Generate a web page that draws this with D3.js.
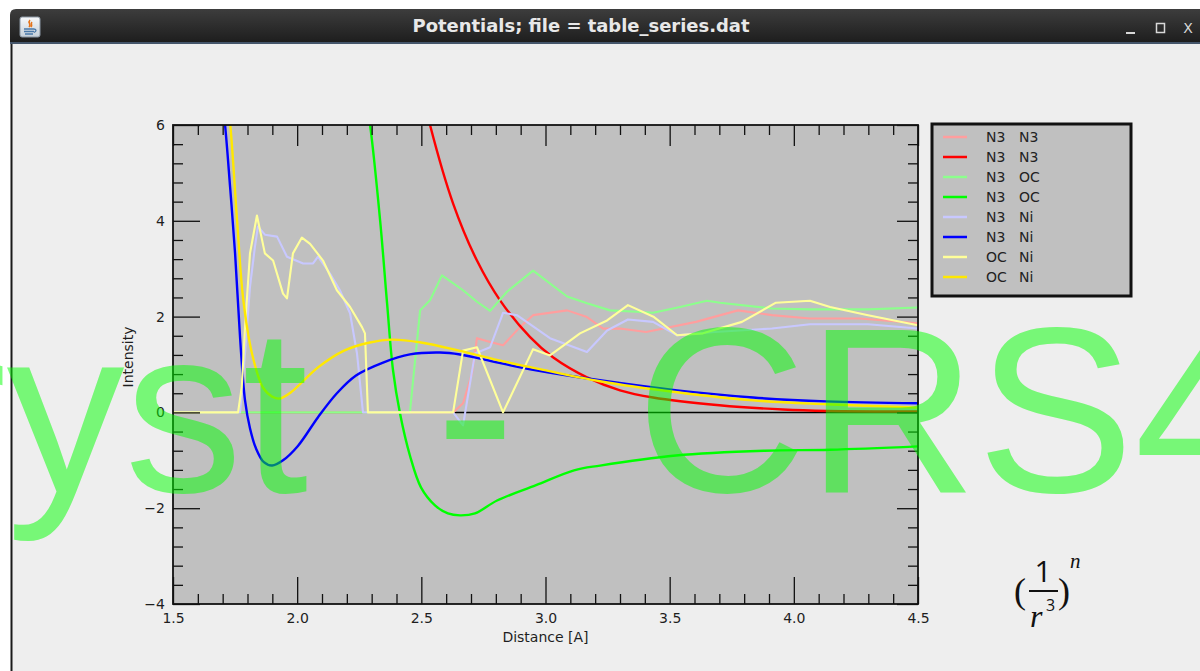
<!DOCTYPE html>
<html>
<head>
<meta charset="utf-8">
<script src="https://cdn.jsdelivr.net/npm/d3@7"></script>
<style>
  html, body { margin: 0; padding: 0; background: #ffffff; }
  svg { display: block; }
</style>
</head>
<body>
<div id="chart"></div>
<script>
////////////////////////////////////////////////////////////////////////
// Data, [distance, intensity] pairs

let n3n3Light = [[1.5, 0], [2.628, 0], [2.668, 0.19], [2.704, 0.81], [2.724, 1.55], [2.777, 1.47],
  [2.829, 1.40], [2.897, 1.78], [2.950, 2.03], [3.087, 2.13], [3.167, 1.99], [3.232, 1.75],
  [3.300, 1.75], [3.405, 1.68], [3.606, 1.89], [3.775, 2.13], [3.912, 2.03], [4.065, 1.96],
  [4.266, 1.96], [4.5, 1.86]]

let n3n3Dark = [[2.50, 6.8], [2.535, 6.0], [2.628, 4.36], [2.724, 3.17], [2.817, 2.34], [2.938, 1.57],
  [3.030, 1.15], [3.167, 0.73], [3.300, 0.46], [3.433, 0.31], [3.70, 0.15], [3.956, 0.06],
  [4.134, 0.03], [4.5, 0.02]]

let n3ocLight = [[1.5, 0], [2.454, 0], [2.495, 2.13], [2.535, 2.34], [2.583, 2.86], [2.668, 2.55],
  [2.724, 2.31], [2.777, 2.12], [2.845, 2.52], [2.950, 2.96], [3.087, 2.42], [3.167, 2.28],
  [3.260, 2.13], [3.368, 2.10], [3.433, 2.08], [3.542, 2.20], [3.650, 2.33], [3.703, 2.29],
  [3.912, 2.17], [4.065, 2.15], [4.299, 2.15], [4.5, 2.19]]

let n3ocDark = [[2.273, 6.7], [2.293, 6.03], [2.334, 4.01], [2.362, 2.28], [2.386, 0.88], [2.414, -0.02],
  [2.454, -0.90], [2.499, -1.57], [2.555, -1.94], [2.607, -2.11], [2.656, -2.15], [2.716, -2.11],
  [2.805, -1.84], [2.962, -1.52], [3.115, -1.21], [3.220, -1.11], [3.525, -0.90], [3.884, -0.80],
  [4.146, -0.78], [4.5, -0.71]]

let n3niLight = [[1.5, 0], [1.770, 0], [1.790, 1.23], [1.810, 2.62], [1.830, 3.46], [1.842, 3.88],
  [1.870, 3.71], [1.919, 3.67], [1.959, 3.25], [2.024, 3.11], [2.064, 3.11], [2.084, 3.25],
  [2.132, 2.90], [2.172, 2.55], [2.213, 2.07], [2.241, 1.23], [2.265, 0], [2.628, 0],
  [2.668, -0.27], [2.716, 1.23], [2.777, 1.36], [2.829, 2.08], [2.885, 2.03], [3.018, 1.55],
  [3.167, 1.26], [3.248, 1.71], [3.332, 1.94], [3.433, 1.89], [3.530, 1.61], [3.683, 1.68],
  [3.912, 1.75], [4.065, 1.84], [4.299, 1.84], [4.5, 1.75]]

let n3niDark = [[1.693, 6.7], [1.709, 6.03], [1.730, 4.70], [1.750, 3.32], [1.770, 1.57], [1.790, 0.25],
  [1.810, -0.33], [1.834, -0.75], [1.866, -1.04], [1.899, -1.11], [1.943, -1.00], [2.003, -0.70],
  [2.084, -0.10], [2.160, 0.40], [2.237, 0.77], [2.346, 1.04], [2.454, 1.21], [2.575, 1.25],
  [2.656, 1.21], [2.809, 1.04], [2.962, 0.88], [3.219, 0.67], [3.530, 0.46], [3.836, 0.31],
  [4.130, 0.23], [4.5, 0.19]]

let ocniLight = [[1.5, 0], [1.762, 0], [1.777, 0.53], [1.790, 1.78], [1.810, 3.32], [1.838, 4.11],
  [1.870, 3.32], [1.903, 3.17], [1.943, 2.48], [1.959, 2.38], [1.983, 3.32], [2.019, 3.65],
  [2.052, 3.52], [2.104, 3.17], [2.160, 2.55], [2.213, 2.20], [2.261, 1.78], [2.273, 1.65],
  [2.285, 0], [2.628, 0], [2.668, 1.29], [2.724, 1.36], [2.829, 0], [2.950, 1.32],
  [3.018, 1.19], [3.139, 1.65], [3.248, 1.92], [3.332, 2.24], [3.437, 1.99], [3.530, 1.61],
  [3.634, 1.65], [3.791, 1.89], [3.928, 2.29], [4.065, 2.33], [4.146, 2.20], [4.299, 2.03],
  [4.5, 1.82]]

let ocniDark = [[1.713, 6.7], [1.730, 6.03], [1.758, 4.01], [1.782, 2.40], [1.818, 1.23], [1.862, 0.52],
  [1.899, 0.33], [1.931, 0.29], [1.975, 0.42], [2.084, 0.94], [2.189, 1.29], [2.293, 1.46],
  [2.382, 1.52], [2.499, 1.46], [2.652, 1.29], [2.809, 1.09], [2.962, 0.92], [3.219, 0.65],
  [3.530, 0.42], [3.836, 0.25], [4.130, 0.17], [4.5, 0.10]]

// legend labels and colours, in drawing order
let pairA = ['N3', 'N3', 'N3', 'N3', 'N3', 'N3', 'OC', 'OC']
let pairB = ['N3', 'N3', 'OC', 'OC', 'Ni', 'Ni', 'Ni', 'Ni']
let lineColors = ['#ff9e9e', '#ff0000', '#8cff8c', '#00ff00', '#c8c8ff', '#0000ff', '#ffff9a', '#ffe800']

// axis ticks
let xMajor = [1.5, 2.0, 2.5, 3.0, 3.5, 4.0, 4.5]
let yMajor = [-4, -2, 0, 2, 4, 6]
let xMinor = [1.6, 1.7, 1.8, 1.9, 2.1, 2.2, 2.3, 2.4, 2.6, 2.7, 2.8, 2.9, 3.1, 3.2, 3.3, 3.4,
  3.6, 3.7, 3.8, 3.9, 4.1, 4.2, 4.3, 4.4]
let yMinor = [-3.6, -3.2, -2.8, -2.4, -1.6, -1.2, -0.8, -0.4, 0.4, 0.8, 1.2, 1.6,
  2.4, 2.8, 3.2, 3.6, 4.4, 4.8, 5.2, 5.6]

let seriesData = [n3n3Light, n3n3Dark, n3ocLight, n3ocDark, n3niLight, n3niDark, ocniLight, ocniDark]

////////////////////////////////////////////////////////////////////////
// Layout

let width = 1200
let height = 671
let plotLeft = 173
let plotRight = 918
let plotTop = 125
let plotBottom = 604
let font = "'DejaVu Sans', sans-serif"

let svg = d3
  .select('#chart')
  .append('svg')
  .attr('width', width)
  .attr('height', height)

let xScale = d3.scaleLinear().domain([1.5, 4.5]).range([plotLeft, plotRight])
let yScale = d3.scaleLinear().domain([-4, 6]).range([plotBottom, plotTop])

////////////////////////////////////////////////////////////////////////
// Window chrome

let defs = svg.append('defs')
let barGrad = defs.append('linearGradient').attr('id', 'bar').attr('x1', 0).attr('y1', 0).attr('x2', 0).attr('y2', 1)
barGrad.append('stop').attr('offset', 0).attr('stop-color', '#3d3d3d')
barGrad.append('stop').attr('offset', 1).attr('stop-color', '#1c1c1c')
let iconGrad = defs.append('linearGradient').attr('id', 'icon').attr('x1', 0).attr('y1', 0).attr('x2', 0).attr('y2', 1)
iconGrad.append('stop').attr('offset', 0).attr('stop-color', '#f6f8fa')
iconGrad.append('stop').attr('offset', 1).attr('stop-color', '#c4cfd9')

// content area
svg.append('rect').attr('x', 11).attr('y', 40).attr('width', 1189).attr('height', 631).attr('fill', '#eeeeee')
svg.append('line').attr('x1', 11.5).attr('x2', 11.5).attr('y1', 40).attr('y2', height)
  .attr('stroke', '#1a1a1a').attr('stroke-width', 2)

// title bar
svg.append('path')
  .attr('d', 'M10,44 L10,15 Q10,9 16,9 L1200,9 L1200,44 Z')
  .attr('fill', 'url(#bar)')
svg.append('line').attr('x1', 10).attr('x2', 1200).attr('y1', 43).attr('y2', 43)
  .attr('stroke', '#44556a').attr('stroke-width', 2)

// little java icon
let icon = svg.append('g').attr('transform', 'translate(20,17)')
icon.append('rect').attr('width', 20).attr('height', 20).attr('rx', 2).attr('fill', 'url(#icon)').attr('stroke', '#8a96a3')
icon.append('path').attr('d', 'M10,3 C7,6 12,7 9,10 M12,5 C10,7 13,8 11,10')
  .attr('fill', 'none').attr('stroke', '#e4741c').attr('stroke-width', 1.6)
icon.append('path').attr('d', 'M4,12 L14,12 M4,14.5 L14,14.5 M5,17 L13,17 M14,12 Q18,13 14,15.5')
  .attr('fill', 'none').attr('stroke', '#4a78a8').attr('stroke-width', 1.3)

svg.append('text')
  .attr('x', 581)
  .attr('y', 32)
  .attr('text-anchor', 'middle')
  .attr('font-family', "'DejaVu Sans Condensed', 'DejaVu Sans', sans-serif")
  .attr('font-weight', 'bold')
  .attr('font-size', 17)
  .attr('fill', '#e8e8e8')
  .attr('textLength', 337)
  .attr('lengthAdjust', 'spacingAndGlyphs')
  .text('Potentials; file = table_series.dat')

// window buttons
svg.append('line').attr('x1', 1126).attr('x2', 1135).attr('y1', 33).attr('y2', 33).attr('stroke', '#d8d8d8').attr('stroke-width', 2)
svg.append('rect').attr('x', 1156.5).attr('y', 23.5).attr('width', 8).attr('height', 9).attr('fill', 'none').attr('stroke', '#d8d8d8').attr('stroke-width', 1.5)
svg.append('text').attr('x', 1188).attr('y', 33).attr('text-anchor', 'middle')
  .attr('font-family', font).attr('font-size', 14).attr('fill', '#d8d8d8').text('X')

////////////////////////////////////////////////////////////////////////
// Plot area

svg.append('rect')
  .attr('x', plotLeft)
  .attr('y', plotTop)
  .attr('width', plotRight - plotLeft)
  .attr('height', plotBottom - plotTop)
  .attr('fill', '#c0c0c0')

defs.append('clipPath').attr('id', 'plotclip')
  .append('rect')
  .attr('x', plotLeft)
  .attr('y', plotTop)
  .attr('width', plotRight - plotLeft)
  .attr('height', plotBottom - plotTop)

// zero line
svg.append('line')
  .attr('x1', plotLeft)
  .attr('x2', plotRight)
  .attr('y1', yScale(0))
  .attr('y2', yScale(0))
  .attr('stroke', '#000')
  .attr('stroke-width', 1.5)

let series = seriesData.map((d, i) => ({
  data: d,
  color: lineColors[i],
  dark: i % 2 === 1
}))

let lineJagged = d3.line().x(d => xScale(d[0])).y(d => yScale(d[1]))
let lineSmooth = d3.line().x(d => xScale(d[0])).y(d => yScale(d[1])).curve(d3.curveCatmullRom.alpha(0.5))

svg.append('g')
  .attr('clip-path', 'url(#plotclip)')
  .selectAll('path')
  .data(series)
  .enter()
  .append('path')
  .attr('fill', 'none')
  .attr('stroke', d => d.color)
  .attr('stroke-width', d => (d.dark ? 2.4 : 2.1))
  .attr('stroke-linejoin', 'round')
  .attr('d', d => (d.dark ? lineSmooth(d.data) : lineJagged(d.data)))

// axes: bottom/left with labels, top/right ticks only
function styleAxis (g, labels) {
  g.select('.domain').remove()
  g.selectAll('.tick line').attr('stroke', '#111').attr('stroke-width', 1.3)
  g.attr('font-family', font).attr('font-size', 14)
  if (labels) g.selectAll('.tick text').attr('fill', '#1e1e1e')
}

let xAxis = svg.append('g')
  .attr('transform', 'translate(0,' + plotBottom + ')')
  .call(d3.axisBottom(xScale).tickValues(xMajor).tickSizeInner(-27).tickSizeOuter(0)
    .tickPadding(9).tickFormat(d3.format('.1f')))
styleAxis(xAxis, true)
let xAxisMinor = svg.append('g')
  .attr('transform', 'translate(0,' + plotBottom + ')')
  .call(d3.axisBottom(xScale).tickValues(xMinor).tickSizeInner(-10).tickSizeOuter(0).tickFormat(''))
styleAxis(xAxisMinor, false)

let yAxis = svg.append('g')
  .attr('transform', 'translate(' + plotLeft + ',0)')
  .call(d3.axisLeft(yScale).tickValues(yMajor).tickSizeInner(-27).tickSizeOuter(0)
    .tickPadding(8).tickFormat(d3.format('d')))
styleAxis(yAxis, true)
let yAxisMinor = svg.append('g')
  .attr('transform', 'translate(' + plotLeft + ',0)')
  .call(d3.axisLeft(yScale).tickValues(yMinor).tickSizeInner(-10).tickSizeOuter(0).tickFormat(''))
styleAxis(yAxisMinor, false)

let topAxis = svg.append('g')
  .attr('transform', 'translate(0,' + plotTop + ')')
  .call(d3.axisTop(xScale).tickValues(xMajor).tickSizeInner(-21).tickSizeOuter(0).tickFormat(''))
styleAxis(topAxis, false)
let topAxisMinor = svg.append('g')
  .attr('transform', 'translate(0,' + plotTop + ')')
  .call(d3.axisTop(xScale).tickValues(xMinor).tickSizeInner(-10).tickSizeOuter(0).tickFormat(''))
styleAxis(topAxisMinor, false)

let rightAxis = svg.append('g')
  .attr('transform', 'translate(' + plotRight + ',0)')
  .call(d3.axisRight(yScale).tickValues(yMajor).tickSizeInner(-21).tickSizeOuter(0).tickFormat(''))
styleAxis(rightAxis, false)
let rightAxisMinor = svg.append('g')
  .attr('transform', 'translate(' + plotRight + ',0)')
  .call(d3.axisRight(yScale).tickValues(yMinor).tickSizeInner(-10).tickSizeOuter(0).tickFormat(''))
styleAxis(rightAxisMinor, false)

// frame
svg.append('rect')
  .attr('x', plotLeft)
  .attr('y', plotTop)
  .attr('width', plotRight - plotLeft)
  .attr('height', plotBottom - plotTop)
  .attr('fill', 'none')
  .attr('stroke', '#111')
  .attr('stroke-width', 1.8)

// axis titles
svg.append('text')
  .attr('x', (plotLeft + plotRight) / 2)
  .attr('y', 642)
  .attr('text-anchor', 'middle')
  .attr('font-family', font)
  .attr('font-size', 14)
  .attr('fill', '#1e1e1e')
  .text('Distance [A]')

svg.append('text')
  .attr('transform', 'translate(133,357) rotate(-90)')
  .attr('text-anchor', 'middle')
  .attr('font-family', font)
  .attr('font-size', 14)
  .attr('fill', '#1e1e1e')
  .text('Intensity')

////////////////////////////////////////////////////////////////////////
// Legend

let legend = svg.append('g').attr('transform', 'translate(932,124)')
legend.append('rect')
  .attr('width', 199)
  .attr('height', 172)
  .attr('fill', '#c0c0c0')
  .attr('stroke', '#111')
  .attr('stroke-width', 3)

let rows = legend.selectAll('g.row')
  .data(series)
  .enter()
  .append('g')
  .attr('class', 'row')
  .attr('transform', (d, i) => 'translate(0,' + (13 + i * 20) + ')')

rows.append('line')
  .attr('x1', 11)
  .attr('x2', 35)
  .attr('stroke', d => d.color)
  .attr('stroke-width', 2.5)

rows.append('text')
  .attr('x', 54)
  .attr('y', 5)
  .attr('font-family', font)
  .attr('font-size', 14)
  .attr('fill', '#222')
  .text((d, i) => pairA[i])

rows.append('text')
  .attr('x', 87)
  .attr('y', 5)
  .attr('font-family', font)
  .attr('font-size', 14)
  .attr('fill', '#222')
  .text((d, i) => pairB[i])

////////////////////////////////////////////////////////////////////////
// Formula (1/r^3)^n

let formula = svg.append('g').attr('fill', '#111').attr('font-family', "'Liberation Serif', serif")
formula.append('text').attr('x', 1014).attr('y', 603).attr('font-size', 36).attr('font-weight', 200).text('(')
formula.append('text').attr('x', 1043).attr('y', 582).attr('text-anchor', 'middle')
  .attr('font-family', "'Open Sans', sans-serif").attr('font-size', 30).text('1')
formula.append('line').attr('x1', 1029).attr('x2', 1058).attr('y1', 591).attr('y2', 591)
  .attr('stroke', '#111').attr('stroke-width', 2)
formula.append('text').attr('x', 1030).attr('y', 627).attr('font-style', 'italic').attr('font-size', 32).text('r')
formula.append('text').attr('x', 1046).attr('y', 611).attr('font-family', "'Open Sans', sans-serif").attr('font-size', 16).text('3')
formula.append('text').attr('x', 1058).attr('y', 603).attr('font-size', 36).attr('font-weight', 200).text(')')
formula.append('text').attr('x', 1070).attr('y', 568).attr('font-style', 'italic').attr('font-size', 21).text('n')

////////////////////////////////////////////////////////////////////////
// Watermark on top of everything

let mark = svg.append('g')
  .attr('font-family', "'Liberation Sans', Arial, sans-serif")
  .attr('font-size', 236)
  .attr('fill', '#00ff00')
  .attr('fill-opacity', 0.5)
mark.append('text').attr('x', 308).attr('y', 492).attr('text-anchor', 'end').text('Cryst')
mark.append('text').attr('x', 436).attr('y', 492).text('-')
mark.append('text').attr('x', 636).attr('y', 492).text('CRS4')
</script>
</body>
</html>
